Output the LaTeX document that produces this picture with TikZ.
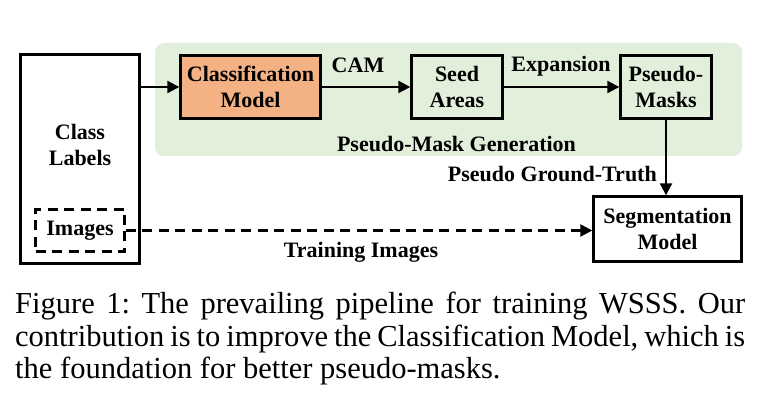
\documentclass[tikz,border=0pt]{standalone}
\usepackage{fontspec}
\setmainfont{Liberation Serif}
\usetikzlibrary{arrows.meta}
\definecolor{grn}{HTML}{E2EFDA}
\definecolor{org}{HTML}{F4B183}
\frenchspacing
\begin{document}
\begin{tikzpicture}[x=1pt,y=-1pt,
  lbl/.style={font=\fontsize{22}{25.5}\selectfont\bfseries, align=center, inner sep=0pt},
  box/.style={draw, line width=2.4pt, inner sep=0pt, font=\fontsize{22}{25.5}\selectfont\bfseries, align=center},
  dsh/.style={dash pattern=on 10pt off 6.5pt},
  conn/.style={line width=2.2pt, -{Triangle[length=12pt,width=12pt]}},
  captxt/.style={font=\fontsize{30.5}{32}\selectfont, anchor=base west, inner sep=0pt}
]
\useasboundingbox (0,0) rectangle (761,406);
\fill[grn, rounded corners=9pt] (155,43) rectangle (742,156);
% nodes
\node[box, minimum width=119pt, minimum height=209pt] (cls) at (80,159) {};
\node[lbl] (clst) at (80,145) {Class\\Labels};
\node[box, dsh, minimum width=89pt, minimum height=42pt] (img) at (80,230.5) {Images};
\node[box, fill=org, minimum width=140pt, minimum height=63pt] (clsm) at (250.5,87) {Classification\\Model};
\node[box, minimum width=91pt, minimum height=63pt] (seed) at (457,87) {Seed\\Areas};
\node[box, minimum width=91pt, minimum height=63pt] (pm) at (666,87) {Pseudo-\\Masks};
\node[box, fill=white, minimum width=148pt, minimum height=65pt] (seg) at (667.5,229) {Segmentation\\Model};
% labels
\node[lbl, anchor=base] (camt) at (358,73) {CAM};
\node[lbl, anchor=base] (expt) at (561,72) {Expansion};
\node[lbl, anchor=base] (pmg) at (456.5,152) {Pseudo-Mask Generation};
\node[lbl, anchor=base east] (pgt) at (657,182) {Pseudo Ground-Truth};
\node[lbl, anchor=base] (tri) at (361,258) {Training Images};
% connectors
\draw[conn] (cls.east |- clsm.west) -- (clsm.west);
\draw[conn] (clsm.east) -- (seed.west);
\draw[conn] (seed.east) -- (pm.west);
\draw[conn] (pm.south) -- (pm.south |- seg.north);
\draw[conn, dsh] (img.east) -- (img.east -| seg.west);
% caption
\node[captxt] (c1) at (15,314) {\makebox[730pt][s]{Figure 1: The prevailing pipeline for training WSSS. Our}};
\node[captxt] (c2) at (15,346) {\makebox[730pt][s]{contribution is to improve the Classification Model, which is}};
\node[captxt] (c3) at (15,378) {the foundation for better pseudo-masks.};
\end{tikzpicture}
\end{document}
